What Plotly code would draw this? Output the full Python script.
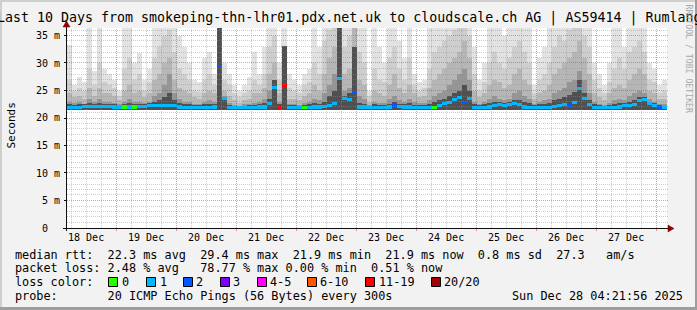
import plotly.graph_objects as go
import pandas as pd

# ---------------- data ----------------
T_START = "2025-12-18 04:21:56"
T_END = "2025-12-28 04:21:56"
STEP_HOURS = 2
SMOKE_FLOOR = 21.5

smoke_max = [33.3, 26, 27.5, 26.5, 37, 28.5, 37, 29, 28, 27,
             25, 37, 37, 30, 31.8, 27, 29, 37, 37, 37,
             37, 37, 35, 33, 30, 27, 26.5, 31, 32, 28,
             37, 30, 28, 26, 25, 26, 27.5, 32, 28, 33,
             37, 37, 30, 37, 28, 27, 26, 28, 29, 37,
             33, 37, 37, 37, 37, 37, 37, 37, 37, 37,
             25, 37, 33, 30, 37, 37, 34, 31, 37, 28,
             26.5, 27, 37, 37, 37, 37, 37, 37, 37, 37,
             37, 33, 27, 30, 37, 37, 37, 35, 37, 37,
             37, 37, 37, 26, 31, 33, 37, 37, 37, 37,
             37, 37, 37, 37, 37, 30, 28, 26, 30, 37,
             37, 33, 37, 37, 37, 37, 30, 29, 26, 27]
smoke_p19 = [27, 25, 25.5, 25, 29, 26, 30, 26.5, 26, 25.5,
             24, 29, 31, 27, 28, 25, 26.5, 31, 33, 35,
             36, 32, 29, 28, 27, 25, 24.8, 27, 28, 26,
             37, 27, 26, 24.5, 23.8, 24.5, 25, 27, 26, 28,
             33, 35, 27, 33.1, 25.5, 25, 24.5, 26, 26.5, 30,
             28, 34, 36, 37, 37, 33, 35, 37, 32, 30,
             24, 29, 27, 26.5, 31, 33, 29, 27, 31, 26,
             25, 25.5, 29, 32, 33, 34, 35, 36, 37, 37,
             35, 28, 25, 26.5, 30, 32, 30, 29, 31, 33,
             34, 32, 30, 24.5, 27, 28, 30, 33, 35, 34,
             36, 37, 37, 35, 33, 27, 25.5, 24.5, 26.5, 29,
             31, 29, 32, 33, 34, 32, 27, 26.5, 24.5, 25]
smoke_p17 = [24.5, 23.8, 24, 23.5, 25.5, 24, 25.5, 24.5, 24.5, 24,
             23.2, 25, 26, 24.5, 25, 23.8, 24.5, 27, 28, 30,
             31, 27, 25.5, 25, 24.5, 23.8, 23.5, 24.5, 25, 24.5,
             37, 25, 24, 23.2, 22.8, 23.3, 23.5, 24.5, 24.5, 25.5,
             28, 30, 24.5, 33.1, 23.5, 23.5, 23.2, 24, 24.5, 26,
             25, 28, 31, 33, 37, 28, 29, 37, 27, 26,
             23, 25, 24.5, 24, 26, 28, 25.5, 24.5, 26, 24.5,
             23.8, 24, 25.5, 27, 28, 29, 30, 31, 32, 34,
             31, 25, 23.8, 24.5, 26, 27, 26.5, 25.5, 26, 28,
             29, 27, 26, 23.5, 24.5, 25, 26, 28, 29, 30,
             31, 32, 34, 31, 28, 24.5, 23.8, 23.2, 24.5, 25.5,
             26, 25.5, 27, 28, 29, 28, 25, 24.5, 23.5, 23.5]
smoke_p14 = [23, 22.8, 22.9, 22.6, 23.5, 23, 23.5, 23, 23, 22.8,
             22.5, 23, 23.5, 23, 23, 22.8, 23, 24, 24.5, 26,
             28, 24.5, 23.5, 23, 23, 22.6, 22.5, 23, 23.2, 23,
             37, 24, 22.8, 22.4, 22.2, 22.5, 22.6, 22.8, 23, 23.5,
             25, 27, 23, 33.1, 22.5, 22.5, 22.4, 22.8, 23, 23.5,
             23.2, 24.5, 26, 28, 37, 25, 25.5, 33, 24, 23.5,
             22.3, 23, 22.8, 22.7, 23.5, 24, 23.2, 23, 23.5, 23,
             22.8, 22.8, 23.2, 24, 24.5, 25, 26, 27, 28, 29,
             27, 23, 22.6, 23, 23.5, 24, 23.5, 23.2, 23.5, 24.5,
             25, 24, 23.5, 22.6, 23, 23.2, 23.5, 24.5, 25, 25.5,
             26.5, 27, 28.5, 27, 24.5, 23, 22.6, 22.4, 22.8, 23.2,
             23.5, 23.2, 24, 24.5, 25, 24.5, 23.5, 23, 22.6, 22.5]
smoke_p11 = [22.5, 22.4, 22.5, 22.6, 22.8, 22.6, 22.8, 22.6, 22.6, 22.5,
             22.4, 22.5, 22.8, 22.5, 22.6, 22.5, 22.7, 23, 23.2, 23.8,
             24.5, 23.2, 22.7, 22.5, 22.5, 22.4, 22.3, 22.5, 22.6, 22.5,
             37, 23.8, 22.4, 22.2, 22.1, 22.2, 22.3, 22.4, 22.5, 22.7,
             23.5, 27, 22.5, 33.1, 22.3, 22.3, 22.2, 22.4, 22.5, 22.7,
             22.6, 23, 24, 25, 37, 24, 24.5, 33, 22.8, 22.6,
             22.1, 22.5, 22.4, 22.3, 22.6, 23, 22.6, 22.5, 22.7, 22.4,
             22.3, 22.4, 22.6, 23, 23.2, 23.5, 24, 24.5, 25, 26,
             25, 22.5, 22.3, 22.5, 22.7, 23, 23, 22.8, 23, 23.3,
             23.3, 23, 22.7, 22.3, 22.5, 22.6, 22.8, 23.2, 23.5, 23.8,
             24.2, 24.8, 27, 24.5, 23.2, 22.5, 22.3, 22.2, 22.4, 22.6,
             22.8, 22.7, 23, 23.3, 23.8, 23.8, 23, 22.7, 22.3, 22.2]
median_ms = [21.9, 21.9, 21.9, 22.1, 22.1, 22.1, 22.1, 22.1, 22.1, 22.0,
             22.0, 22.0, 22.0, 22.0, 22.1, 22.1, 22.2, 22.2, 22.2, 22.3,
             22.3, 22.2, 22.0, 21.9, 21.9, 21.9, 21.9, 21.9, 21.9, 22.0,
             29.4, 23.5, 21.9, 21.9, 21.9, 21.9, 21.9, 21.9, 22.0, 22.0,
             22.6, 25.6, 22.0, 25.9, 21.9, 21.9, 21.9, 21.9, 21.9, 22.0,
             22.0, 22.1, 22.3, 22.6, 27.2, 23.6, 23.4, 24.7, 22.0, 22.0,
             21.9, 21.9, 21.9, 21.9, 22.0, 22.3, 22.1, 22.0, 22.0, 21.9,
             21.9, 21.9, 21.9, 21.9, 22.3, 22.6, 22.8, 23.3, 23.7, 22.9,
             23.5, 21.9, 21.9, 21.9, 22.0, 22.3, 22.5, 22.2, 22.4, 22.7,
             22.5, 22.0, 21.9, 21.9, 21.9, 21.9, 21.9, 22.1, 22.3, 22.5,
             22.3, 22.8, 25.4, 23.6, 22.5, 21.9, 21.9, 21.9, 21.9, 21.9,
             22.0, 22.2, 22.3, 22.5, 23.1, 23.3, 22.6, 22.3, 21.9, 21.9]
lost_pings = [1, 1, 1, 1, 1, 1, 1, 1, 1, 1,
              1, 0, 1, 0, 1, 1, 1, 1, 1, 1,
              1, 1, 1, 1, 1, 1, 1, 1, 1, 1,
              2, 1, 1, 1, 1, 1, 1, 1, 1, 1,
              1, 1, 12, 12, 1, 1, 1, 0, 1, 1,
              1, 1, 1, 1, 1, 1, 1, 2, 1, 1,
              1, 1, 1, 1, 1, 2, 1, 1, 1, 1,
              1, 1, 1, 0, 1, 1, 1, 1, 1, 2,
              1, 1, 1, 1, 1, 1, 1, 1, 1, 1,
              1, 1, 1, 1, 1, 1, 1, 1, 1, 1,
              2, 1, 1, 1, 1, 1, 1, 1, 1, 1,
              1, 1, 1, 1, 1, 1, 1, 1, 2, 1]

day_labels = ["18 Dec", "19 Dec", "20 Dec", "21 Dec", "22 Dec",
              "23 Dec", "24 Dec", "25 Dec", "26 Dec", "27 Dec"]
y_tick_values = [0, 5, 10, 15, 20, 25, 30, 35]
y_tick_labels = ["0  ", "5 m", "10 m", "15 m", "20 m", "25 m", "30 m", "35 m"]

loss_names = ["0", "1", "2", "3", "4-5", "6-10", "11-19", "20/20"]
loss_upper = [0, 1, 2, 3, 5, 10, 19, 20]
loss_colors = ["#26ff00", "#00b8ff", "#0059ff", "#7e00ff", "#ff00ff",
               "#ff5500", "#ff0000", "#a10000"]

title_text = "Last 10 Days from smokeping-thn-lhr01.pdx.net.uk to cloudscale.ch AG | AS59414 | Rumlang"
legend_lines = [
    "median rtt:  22.3 ms avg  29.4 ms max  21.9 ms min  21.9 ms now  0.8 ms sd  27.3   am/s",
    "packet loss: 2.48 % avg   78.77 % max 0.00 % min  0.51 % now",
    "loss color:",
    "probe:       20 ICMP Echo Pings (56 Bytes) every 300s",
]
stamp_text = "Sun Dec 28 04:21:56 2025"

# ---------------- geometry ----------------
W, H = 697, 310
PL, PR, PT, PB = 67, 667, 28, 228
Y_TOP = (PB - PT) / 5.5
MONO = "DejaVu Sans Mono"


def px(xp):
    return (xp - PL) / (PR - PL)


def py(yp):
    return (PB - yp) / (PB - PT)


t0 = pd.Timestamp(T_START)
t1 = pd.Timestamp(T_END)
span = (t1 - t0).total_seconds()


def tx(t):
    return PL + (t - t0).total_seconds() / span * (PR - PL)


n = len(median_ms)
centers = [t0 + pd.Timedelta(hours=STEP_HOURS * (i + 0.5)) for i in range(n)]
bar_w = STEP_HOURS * 3600 * 1000


def loss_color(k):
    for up, c in zip(loss_upper, loss_colors):
        if k <= up:
            return c
    return loss_colors[-1]


fig = go.Figure()
smoke_layers = [(smoke_max, "#e2e2e2"), (smoke_p19, "#cecece"),
                (smoke_p17, "#b6b6b6"), (smoke_p14, "#959595"), (smoke_p11, "#505050")]
for vals, col in smoke_layers:
    fig.add_trace(go.Bar(x=centers, y=[v - SMOKE_FLOOR for v in vals], base=SMOKE_FLOOR,
                         width=bar_w, marker=dict(color=col, line=dict(width=0)),
                         hoverinfo="skip", showlegend=False))

fig.add_trace(go.Bar(x=centers, y=[0.56] * n, base=[m - 0.28 for m in median_ms],
                     width=bar_w,
                     marker=dict(color=[loss_color(k) for k in lost_pings], line=dict(width=0)),
                     hoverinfo="skip", showlegend=False))

GRID = "rgba(143,143,143,0.45)"
MGRID = "rgba(222,48,48,0.5)"
AX = "#101010"
ARROW = "#8b0000"
shapes = []
ann = []


def text(xp, yp, s, size, anchor="left", color="#000000", angle=0, family=MONO):
    ann.append(dict(xref="paper", yref="paper", x=px(xp), y=py(yp), text=s.replace(" ", "\u00a0"),
                    showarrow=False, xanchor=anchor, yanchor="middle", textangle=angle,
                    font=dict(family=family, size=size, color=color), borderpad=0, borderwidth=0))


# horizontal grid (1 ms minor, 5 ms major) + y ticks and labels
for k in range(0, int(Y_TOP) + 1):
    yp = round(PB - 5.5 * k - 0.5) + 0.5
    major = k % 5 == 0
    if k > 0:
        shapes.append(dict(type="line", xref="paper", yref="paper", layer="above",
                           x0=px(PL), x1=px(PR + 1), y0=py(yp), y1=py(yp),
                           line=dict(color=MGRID if major else GRID, width=1, dash="1px,1px")))
    if major:
        shapes.append(dict(type="line", xref="paper", yref="paper", layer="above",
                           x0=px(64), x1=px(66.5), y0=py(yp), y1=py(yp),
                           line=dict(color=AX, width=1)))
for v, lab in zip(y_tick_values, y_tick_labels):
    text(59.5, PB - 5.5 * v, lab, 10, anchor="right")

# vertical grid (6 h minor, midnight major) + x ticks
g = pd.Timestamp("2025-12-18 06:00")
while g < t1:
    xp = round(tx(g)) + 0.5
    major = g.hour == 0
    shapes.append(dict(type="line", xref="paper", yref="paper", layer="above",
                       x0=px(xp), x1=px(xp), y0=py(PB), y1=1,
                       line=dict(color=MGRID if major else GRID, width=1, dash="1px,1px")))
    if major:
        shapes.append(dict(type="line", xref="paper", yref="paper", layer="above",
                           x0=px(xp), x1=px(xp), y0=py(PB + 0.5), y1=py(PB + 3),
                           line=dict(color=MGRID, width=1)))
    g += pd.Timedelta(hours=6)

# axes with arrows
shapes.append(dict(type="line", xref="paper", yref="paper", layer="above",
                   x0=px(63), x1=px(669), y0=py(228.5), y1=py(228.5), line=dict(color=AX, width=1)))
shapes.append(dict(type="line", xref="paper", yref="paper", layer="above",
                   x0=px(66.5), x1=px(66.5), y0=py(231), y1=py(26), line=dict(color=AX, width=1)))
shapes.append(dict(type="path", xref="paper", yref="paper", layer="above",
                   path=f"M {px(668)} {py(225)} L {px(674)} {py(228.5)} L {px(668)} {py(232)} Z",
                   fillcolor=ARROW, line=dict(color=ARROW, width=0.5)))
shapes.append(dict(type="path", xref="paper", yref="paper", layer="above",
                   path=f"M {px(63)} {py(27)} L {px(66.5)} {py(21)} L {px(70)} {py(27)} Z",
                   fillcolor=ARROW, line=dict(color=ARROW, width=0.5)))

# frame shading
shapes.append(dict(type="rect", xref="paper", yref="paper", x0=px(0), x1=px(697), y0=py(0), y1=py(2),
                   fillcolor="#cfcfcf", line=dict(width=0), layer="above"))
shapes.append(dict(type="rect", xref="paper", yref="paper", x0=px(0), x1=px(2), y0=py(0), y1=py(310),
                   fillcolor="#cfcfcf", line=dict(width=0), layer="above"))
shapes.append(dict(type="rect", xref="paper", yref="paper", x0=px(695), x1=px(697), y0=py(0), y1=py(310),
                   fillcolor="#9e9e9e", line=dict(width=0), layer="above"))
shapes.append(dict(type="rect", xref="paper", yref="paper", x0=px(0), x1=px(697), y0=py(307), y1=py(310),
                   fillcolor="#9e9e9e", line=dict(width=0), layer="above"))

# loss colour boxes
box_left = [108, 146, 183, 220, 257, 307, 365, 431]
label_left = [123, 161, 197, 234, 271, 321, 380, 445]
for bx, c in zip(box_left, loss_colors):
    shapes.append(dict(type="rect", xref="paper", yref="paper", layer="above",
                       x0=px(bx + 0.5), x1=px(bx + 9.5), y0=py(277.5), y1=py(286.5),
                       fillcolor=c, line=dict(color="#000000", width=1)))

text(348.5, 18, title_text, 13.3, anchor="center")
text(688.5, 59, "RRDTOOL / TOBI OETIKER", 8.2, anchor="center", color="#a8a8a8", angle=90)
text(10.5, 126, "Seconds", 11, anchor="center", angle=-90)
for i, line in enumerate(legend_lines):
    text(15, 254.5 + i * 13.9, line, 11.83)
for lx, name in zip(label_left, loss_names):
    text(lx - 1, 282.4, name, 11.83)
text(512, 296.2, stamp_text, 11.83)

fig.update_layout(
    width=W, height=H, margin=dict(l=PL, r=W - PR, t=PT, b=H - PB),
    paper_bgcolor="#f2f2f2", plot_bgcolor="#ffffff",
    barmode="overlay", bargap=0, showlegend=False,
    shapes=shapes, annotations=ann,
    xaxis=dict(type="date", range=[t0, t1], showgrid=False, zeroline=False, showline=False,
               tickvals=[pd.Timestamp("2025-12-18 12:00") + pd.Timedelta(days=i) for i in range(len(day_labels))],
               ticktext=day_labels, ticks="", ticklabelstandoff=2,
               tickfont=dict(family=MONO, size=10, color="#000000"), fixedrange=True),
    yaxis=dict(range=[0, Y_TOP], showgrid=False, zeroline=False, showline=False,
               showticklabels=False, ticks="", fixedrange=True),
)

fig.write_html("out.html", config={"displayModeBar": False, "staticPlot": True})
